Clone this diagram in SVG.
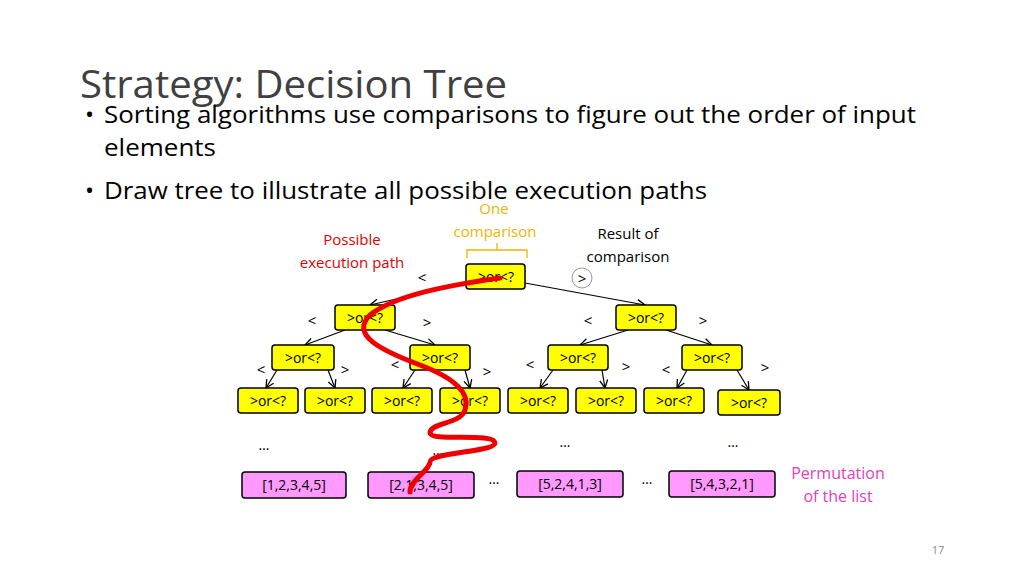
<svg xmlns="http://www.w3.org/2000/svg" width="1024" height="576" viewBox="0 0 1024 576">
<defs>
<marker id="ah" markerWidth="10" markerHeight="10" refX="9" refY="5" orient="auto" markerUnits="userSpaceOnUse"><path d="M1,1 L9,5 L1,9" fill="none" stroke="#000" stroke-width="1.3"/></marker>
<style>
text{font-family:"Open Sans","Liberation Sans",sans-serif}
.n rect{fill:#ffff00;stroke:#000;stroke-width:1.5}
.n text{font-size:14px;text-anchor:middle}
.p rect{fill:#ff99ff;stroke:#000;stroke-width:1.5}
.p text{font-size:14px;text-anchor:middle}
.c line{stroke:#000;stroke-width:1.2;marker-end:url(#ah)}
.l{font-size:15px;text-anchor:middle}
.d{font-size:14px;text-anchor:middle}
</style>
</defs>
<rect width="1024" height="576" fill="#fff"/>
<text x="80" y="98" font-size="38" fill="#404040" textLength="427" lengthAdjust="spacingAndGlyphs">Strategy: Decision Tree</text>
<text x="85" y="123" font-size="24">•</text>
<text x="104" y="123" font-size="24" textLength="812" lengthAdjust="spacingAndGlyphs">Sorting algorithms use comparisons to figure out the order of input</text>
<text x="104" y="156" font-size="24" textLength="112" lengthAdjust="spacingAndGlyphs">elements</text>
<text x="85" y="199" font-size="24">•</text>
<text x="104" y="199" font-size="24" textLength="603" lengthAdjust="spacingAndGlyphs">Draw tree to illustrate all possible execution paths</text>
<text x="494" y="214" class="l" fill="#f0b400">One</text>
<text x="495" y="237" class="l" fill="#f0b400">comparison</text>
<path d="M467,258 V250 H527 V258 M497,250 V243" fill="none" stroke="#f0b400" stroke-width="1.3"/>
<text x="352" y="245" class="l" fill="#e00000">Possible</text>
<text x="352" y="268" class="l" fill="#e00000">execution path</text>
<text x="628" y="239" class="l">Result of</text>
<text x="628" y="262" class="l">comparison</text>
<text x="838" y="479" font-size="16" text-anchor="middle" fill="#e040c0">Permutation</text>
<text x="838" y="502" font-size="16" text-anchor="middle" fill="#e040c0">of the list</text>
<g class="c" id="connectors">
<line x1="466" y1="283" x2="370" y2="305"/>
<line x1="525" y1="283" x2="645" y2="305"/>
<line x1="345" y1="330" x2="305" y2="345"/>
<line x1="385" y1="330" x2="435" y2="345"/>
<line x1="628" y1="330" x2="580" y2="345"/>
<line x1="666" y1="330" x2="712" y2="345"/>
<line x1="277" y1="370" x2="266" y2="388"/>
<line x1="328" y1="370" x2="335" y2="388"/>
<line x1="415" y1="370" x2="403" y2="388"/>
<line x1="465" y1="370" x2="470" y2="388"/>
<line x1="553" y1="370" x2="540" y2="388"/>
<line x1="602" y1="370" x2="605" y2="388"/>
<line x1="687" y1="370" x2="677" y2="388"/>
<line x1="737" y1="370" x2="749" y2="390"/>
</g>
<g fill="#000">
<text x="422" y="283" class="l">&lt;</text>
<circle cx="582" cy="278" r="10" fill="none" stroke="#999" stroke-width="1"/>
<text x="582" y="284" class="l">&gt;</text>
<text x="312" y="326" class="l">&lt;</text>
<text x="427" y="328" class="l">&gt;</text>
<text x="588" y="326" class="l">&lt;</text>
<text x="703" y="326" class="l">&gt;</text>
<text x="261" y="375" class="l">&lt;</text>
<text x="345" y="375" class="l">&gt;</text>
<text x="395" y="370" class="l">&lt;</text>
<text x="487" y="377" class="l">&gt;</text>
<text x="530" y="370" class="l">&lt;</text>
<text x="626" y="372" class="l">&gt;</text>
<text x="666" y="375" class="l">&lt;</text>
<text x="765" y="373" class="l">&gt;</text>
</g>
<g id="root" class="n"><rect x="466" y="264" width="59" height="25" rx="3"/><text x="496" y="282">&gt;or&lt;?</text></g>
<g id="n2a" class="n"><rect x="335" y="305" width="60" height="25" rx="3"/><text x="365" y="323">&gt;or&lt;?</text></g>
<g id="n2b" class="n"><rect x="616" y="305" width="60" height="25" rx="3"/><text x="646" y="323">&gt;or&lt;?</text></g>
<g id="n3a" class="n"><rect x="272" y="345" width="62" height="25" rx="3"/><text x="303" y="363">&gt;or&lt;?</text></g>
<g id="n3b" class="n"><rect x="410" y="345" width="60" height="25" rx="3"/><text x="440" y="363">&gt;or&lt;?</text></g>
<g id="n3c" class="n"><rect x="548" y="345" width="60" height="25" rx="3"/><text x="578" y="363">&gt;or&lt;?</text></g>
<g id="n3d" class="n"><rect x="682" y="345" width="60" height="25" rx="3"/><text x="712" y="363">&gt;or&lt;?</text></g>
<g id="n4a" class="n"><rect x="238" y="388" width="60" height="25" rx="3"/><text x="268" y="406">&gt;or&lt;?</text></g>
<g id="n4b" class="n"><rect x="305" y="388" width="60" height="25" rx="3"/><text x="335" y="406">&gt;or&lt;?</text></g>
<g id="n4c" class="n"><rect x="372" y="388" width="60" height="25" rx="3"/><text x="402" y="406">&gt;or&lt;?</text></g>
<g id="n4d" class="n"><rect x="440" y="388" width="60" height="25" rx="3"/><text x="470" y="406">&gt;or&lt;?</text></g>
<g id="n4e" class="n"><rect x="508" y="388" width="60" height="25" rx="3"/><text x="538" y="406">&gt;or&lt;?</text></g>
<g id="n4f" class="n"><rect x="576" y="388" width="60" height="25" rx="3"/><text x="606" y="406">&gt;or&lt;?</text></g>
<g id="n4g" class="n"><rect x="644" y="388" width="60" height="25" rx="3"/><text x="674" y="406">&gt;or&lt;?</text></g>
<g id="n4h" class="n"><rect x="718" y="390" width="62" height="25" rx="3"/><text x="749" y="408">&gt;or&lt;?</text></g>
<g class="d">
<text x="264" y="450">…</text><text x="438" y="455">…</text><text x="565" y="447">…</text><text x="733" y="447">…</text><text x="494" y="484">…</text><text x="647" y="484">…</text>
</g>
<g id="p1" class="p"><rect x="242" y="472" width="104" height="26" rx="3"/><text x="294" y="490">[1,2,3,4,5]</text></g>
<g id="p2" class="p"><rect x="368" y="472" width="106" height="26" rx="3"/><text x="421" y="490">[2,1,3,4,5]</text></g>
<g id="p3" class="p"><rect x="517" y="471" width="106" height="26" rx="3"/><text x="570" y="489">[5,2,4,1,3]</text></g>
<g id="p4" class="p"><rect x="669" y="471" width="106" height="26" rx="3"/><text x="722" y="489">[5,4,3,2,1]</text></g>
<path d="M500,278 C450,285 395,295 370,315 C350,335 380,350 420,365 C460,380 470,395 465,410 C460,425 430,422 430,433 C430,442 495,432 495,443 C495,452 430,452 430,462 C430,470 410,480 410,492" fill="none" stroke="#ee0000" stroke-width="5" stroke-linecap="round"/>
<text x="938" y="554" font-size="11" fill="#888" text-anchor="middle">17</text>
</svg>
